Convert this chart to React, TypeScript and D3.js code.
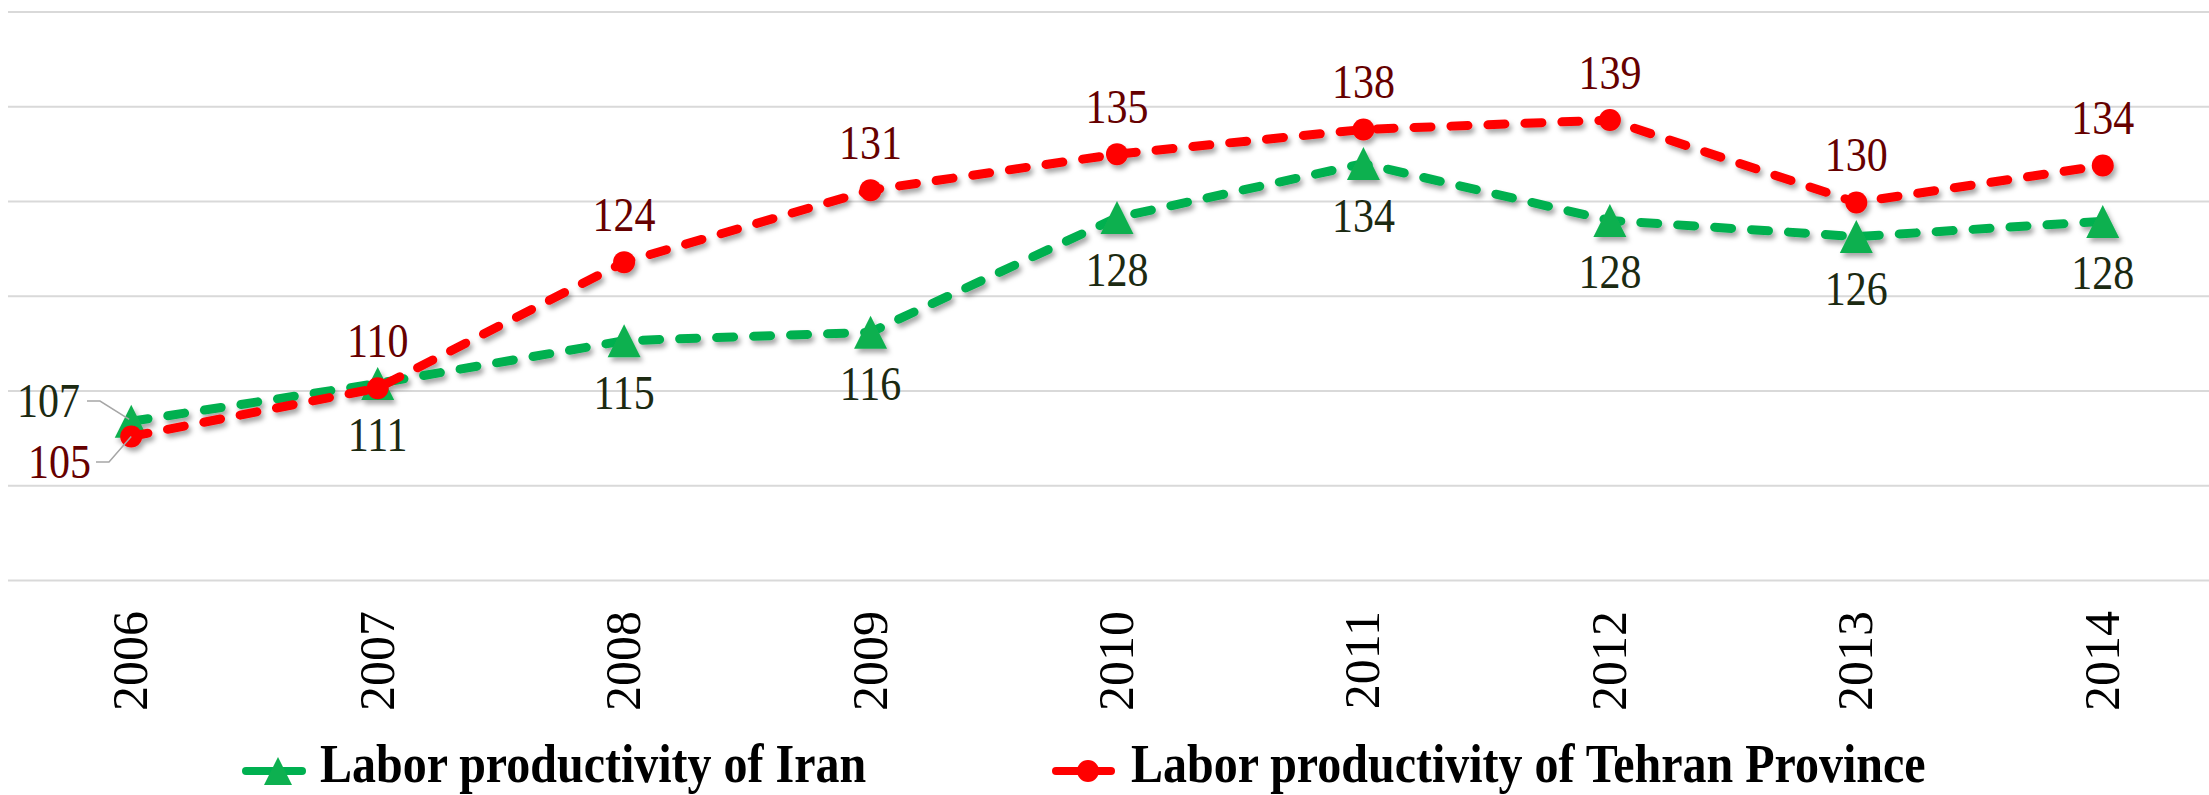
import React from 'react';
import * as d3 from 'd3';

const years = ['2006', '2007', '2008', '2009', '2010', '2011', '2012', '2013', '2014'];
const iranValues = [106.8, 110.8, 115.3, 116.2, 128.3, 134.0, 128.0, 126.3, 127.9];
const tehranValues = [105.2, 110.3, 123.6, 131.2, 135.0, 137.6, 138.6, 129.9, 133.8];
const yTicks = [90, 100, 110, 120, 130, 140, 150];
const seriesNames = ['Labor productivity of Iran', 'Labor productivity of Tehran Province'];

const W = 2209;
const H = 795;
const GREEN = '#00B050';
const RED = '#FF0000';
const IRAN_LABEL = '#1c2a12';
const TEHRAN_LABEL = '#660000';
const SERIF = '"Liberation Serif", "Times New Roman", Times, serif';
const STRETCH = 1.15;

export default function App() {
  const x = d3.scalePoint<string>().domain(years).range([8, 2226]).padding(0.5);
  const y = d3.scaleLinear().domain([90, 150]).range([580.5, 12]);
  const line = d3
    .line<number>()
    .x((_, i) => x(years[i]) as number)
    .y((d) => y(d));

  const tri = (cx: number, cy: number, s: number) =>
    `M${cx},${cy - s / 2}L${cx + s / 2},${cy + s / 2}L${cx - s / 2},${cy + s / 2}Z`;

  const fmt = (v: number) => String(Math.round(v));

  return (
    <svg
      width={W}
      height={H}
      style={{ position: 'absolute', left: 0, top: 0, background: '#fff' }}
    >
      <defs>
        <filter id="shadow" x="-10%" y="-10%" width="120%" height="130%">
          <feDropShadow dx="2.5" dy="4" stdDeviation="2.5" floodColor="#000" floodOpacity="0.35" />
        </filter>
      </defs>
      <rect x={0} y={0} width={W} height={H} fill="#fff" />

      {/* gridlines */}
      {yTicks.map((t) => (
        <line key={t} x1={8} x2={W} y1={y(t)} y2={y(t)} stroke="#d9d9d9" strokeWidth={2} />
      ))}

      {/* year labels */}
      {years.map((yr) => (
        <text
          key={yr}
          transform={`translate(${(x(yr) as number) + 16},611) rotate(-90)`}
          textAnchor="end"
          fontFamily={SERIF}
          fontSize={50}
          fill="#000"
        >
          {yr}
        </text>
      ))}

      {/* lines */}
      <g filter="url(#shadow)">
        <path
          d={line(iranValues) || ''}
          fill="none"
          stroke={GREEN}
          strokeWidth={9}
          strokeDasharray="17 20"
          strokeLinecap="round"
          strokeLinejoin="round"
        />
        {iranValues.map((v, i) => (
          <path key={'m' + i} d={tri(x(years[i]) as number, y(v), 33)} fill="#0db050" />
        ))}
        <path
          d={line(tehranValues) || ''}
          fill="none"
          stroke={RED}
          strokeWidth={9}
          strokeDasharray="17 20"
          strokeLinecap="round"
          strokeLinejoin="round"
        />
        {tehranValues.map((v, i) => (
          <circle key={'c' + i} cx={x(years[i]) as number} cy={y(v)} r={11} fill={RED} />
        ))}
      </g>

      {/* leader lines for 2006 */}
      <polyline
        points={`87,401 100,401 ${(x(years[0]) as number) - 2},${y(iranValues[0]) - 2}`}
        fill="none"
        stroke="#a6a6a6"
        strokeWidth={1.5}
      />
      <polyline
        points={`${x(years[0]) as number},${y(tehranValues[0])} 109,462 96,462`}
        fill="none"
        stroke="#a6a6a6"
        strokeWidth={1.5}
      />

      {/* data labels */}
      {iranValues.map((v, i) => {
        const cx = x(years[i]) as number;
        const first = i === 0;
        const tx = first ? 80 : cx;
        const ty = first ? 417 : y(v) + 68;
        return (
          <text
            key={'li' + i}
            transform={`translate(${tx},${ty}) scale(1,${STRETCH})`}
            textAnchor={first ? 'end' : 'middle'}
            fontFamily={SERIF}
            fontSize={42}
            fill={IRAN_LABEL}
          >
            {fmt(v)}
          </text>
        );
      })}
      {tehranValues.map((v, i) => {
        const cx = x(years[i]) as number;
        const first = i === 0;
        const tx = first ? 91 : cx;
        const ty = first ? 478 : y(v) - 31;
        return (
          <text
            key={'lt' + i}
            transform={`translate(${tx},${ty}) scale(1,${STRETCH})`}
            textAnchor={first ? 'end' : 'middle'}
            fontFamily={SERIF}
            fontSize={42}
            fill={TEHRAN_LABEL}
          >
            {fmt(v)}
          </text>
        );
      })}

      {/* legend */}
      <g>
        <line x1={246} x2={302} y1={771} y2={771} stroke={GREEN} strokeWidth={8} strokeLinecap="round" />
        <path d={tri(278, 771, 28)} fill="#0db050" />
        <text
          transform={`translate(320,782) scale(1,${STRETCH})`}
          fontFamily={SERIF}
          fontSize={48}
          fontWeight="bold"
          fill="#000"
        >
          {seriesNames[0]}
        </text>
        <line x1={1056} x2={1111} y1={771} y2={771} stroke={RED} strokeWidth={8} strokeLinecap="round" />
        <circle cx={1088} cy={771} r={11} fill={RED} />
        <text
          transform={`translate(1131,782) scale(1,${STRETCH})`}
          fontFamily={SERIF}
          fontSize={48}
          fontWeight="bold"
          fill="#000"
        >
          {seriesNames[1]}
        </text>
      </g>
    </svg>
  );
}
